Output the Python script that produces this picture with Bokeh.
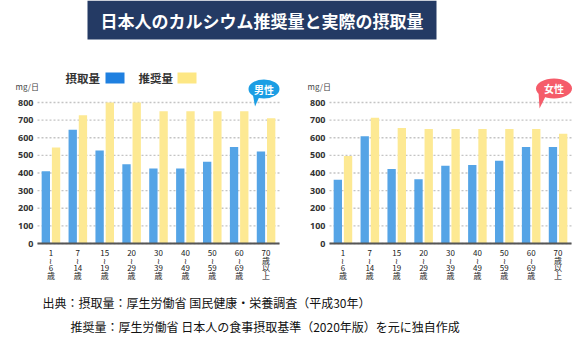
from bokeh.plotting import figure
from bokeh.models import Range1d, ColumnDataSource
from bokeh.transform import dodge
from bokeh.core.properties import value
from bokeh.embed import file_html
from bokeh.resources import INLINE

# ---------------- data ----------------
ages = ["1〜6歳", "7〜14歳", "15〜19歳", "20〜29歳", "30〜39歳",
        "40〜49歳", "50〜59歳", "60〜69歳", "70歳以上"]
age_tick_labels = ["1\n≀\n6\n歳", "7\n≀\n14\n歳", "15\n≀\n19\n歳", "20\n≀\n29\n歳",
                   "30\n≀\n39\n歳", "40\n≀\n49\n歳", "50\n≀\n59\n歳", "60\n≀\n69\n歳",
                   "70\n歳\n以\n上"]
male_intake = [410, 645, 528, 450, 426, 426, 464, 547, 522]
male_recommended = [545, 728, 800, 800, 750, 750, 750, 750, 710]
female_intake = [361, 609, 422, 365, 441, 446, 469, 547, 547]
female_recommended = [496, 713, 655, 650, 650, 650, 650, 650, 622]
y_ticks = [0, 100, 200, 300, 400, 500, 600, 700, 800]
legend_labels = ["摂取量", "推奨量"]
title_text = "日本人のカルシウム推奨量と実際の摂取量"
source_lines = ["出典：摂取量：厚生労働省 国民健康・栄養調査（平成30年）",
                "推奨量：厚生労働省 日本人の食事摂取基準（2020年版）を元に独自作成"]

# ---------------- styling / layout ----------------
BAR_BLUE = "#55a4e6"
BAR_YELLOW = "#fde993"
LEG_BLUE = "#1f80e0"
LEG_YELLOW = "#fde784"
JP = "Noto Sans CJK JP"

W, H = 588, 343
N = len(ages)
UNIT = 242 / N            # px per age group
M_LEFT, F_LEFT = 37, 329  # left edge of each chart's plotting area (px)
BASE, TOP800 = 243, 102   # px rows of value 0 and value 800
S = 800 / (BASE - TOP800)  # value units per px

p = figure(width=W, height=H, x_range=Range1d(0, W), y_range=Range1d(H, 0),
           output_backend="svg", toolbar_location=None,
           x_axis_type=None, y_axis_type=None, min_border=0,
           outline_line_color=None, background_fill_color="white",
           border_fill_color="white")
p.extra_x_ranges = {"xm": Range1d(-M_LEFT / UNIT, (W - M_LEFT) / UNIT),
                    "xf": Range1d(-F_LEFT / UNIT, (W - F_LEFT) / UNIT)}
p.extra_y_ranges = {"yv": Range1d(-(H - BASE) * S, BASE * S)}

label_lines = [lab.split("\n") for lab in age_tick_labels]


def draw_chart(xr, intake, rec):
    idx = [i + 0.5 for i in range(N)]
    data = dict(idx=idx, intake=intake, rec=rec)
    for k in range(4):
        data[f"l{k}"] = [lines[k] for lines in label_lines]
    src = ColumnDataSource(data)
    tsrc = ColumnDataSource(dict(t=y_ticks, lab=[str(t) for t in y_ticks]))
    kw = dict(x_range_name=xr, y_range_name="yv")
    # dotted grid lines
    p.segment(x0=0, x1=N, y0="t", y1="t", source=tsrc, line_color="#c4c4c4",
              line_dash="2 2", line_width=1.3, **kw)
    # bars
    p.vbar(x=dodge("idx", -0.19), top="intake", width=0.31, source=src,
           fill_color=BAR_BLUE, line_color=None, **kw)
    p.vbar(x=dodge("idx", 0.19), top="rec", width=0.31, source=src,
           fill_color=BAR_YELLOW, line_color=None, **kw)
    # baseline axis
    p.segment(x0=[0], x1=[N], y0=[y_ticks[0]], y1=[y_ticks[0]],
              line_color="#555555", line_width=2, **kw)
    # y tick labels
    p.text(x=0, y="t", text="lab", source=tsrc, x_offset=-4,
           text_font=value("Noto Sans"), text_font_style="bold", text_font_size="9px",
           text_color="#333333", text_align="right", text_baseline="middle", **kw)
    # x category labels, stacked vertically one character group per line
    for k in range(4):
        p.text(x="idx", y=y_ticks[0], text=f"l{k}", source=src, y_offset=9 + 7.6 * k,
               text_font=value(JP), text_font_size="8px",
               text_color="#222222", text_align="center", text_baseline="middle", **kw)


draw_chart("xm", male_intake, male_recommended)
draw_chart("xf", female_intake, female_recommended)

# unit labels
p.text(x=[15, 307], y=[86, 86], text=["mg/日", "mg/日"], text_font=value(JP),
       text_font_size="8px", text_color="#444444", text_align="left",
       text_baseline="middle")

# legend
p.text(x=[65, 138], y=[77.5, 77.5], text=legend_labels, text_font=value(JP),
       text_font_style="bold", text_font_size="11.5px", text_color="#333333",
       text_align="left", text_baseline="middle")
p.quad(left=[105, 177], right=[124, 196], top=[72, 72], bottom=[83, 83],
       fill_color=[LEG_BLUE, LEG_YELLOW], line_color=None)

# speech bubbles
p.patches(xs=[[252, 259, 254.5], [538, 545, 539]], ys=[[92, 96, 106], [92, 96, 108]],
          fill_color=["#1c9ee4", "#f55c6a"], line_color=None)
p.ellipse(x=[263.5, 553.5], y=[88.5, 88], width=[31, 36], height=[19, 20],
          width_units="screen", height_units="screen",
          fill_color=["#1c9ee4", "#f55c6a"], line_color=None)
p.text(x=[263.5, 553.5], y=[88.5, 88], text=["男性", "女性"], text_font=value(JP),
       text_font_style="bold", text_font_size="10px", text_color="white",
       text_align="center", text_baseline="middle")

# title banner
p.quad(left=[87], right=[436], top=[0], bottom=[39], fill_color="#243a64", line_color=None)
p.text(x=[261.5], y=[19.5], text=[title_text], text_font=value(JP),
       text_font_style="bold", text_font_size="17px", text_color="white",
       text_align="center", text_baseline="middle")

# source note
p.text(x=[42, 70], y=[302, 326], text=source_lines, text_font=value(JP),
       text_font_size="12px", text_color="#111111", text_align="left",
       text_baseline="middle")

open("out.html", "w").write(file_html(p, INLINE))
